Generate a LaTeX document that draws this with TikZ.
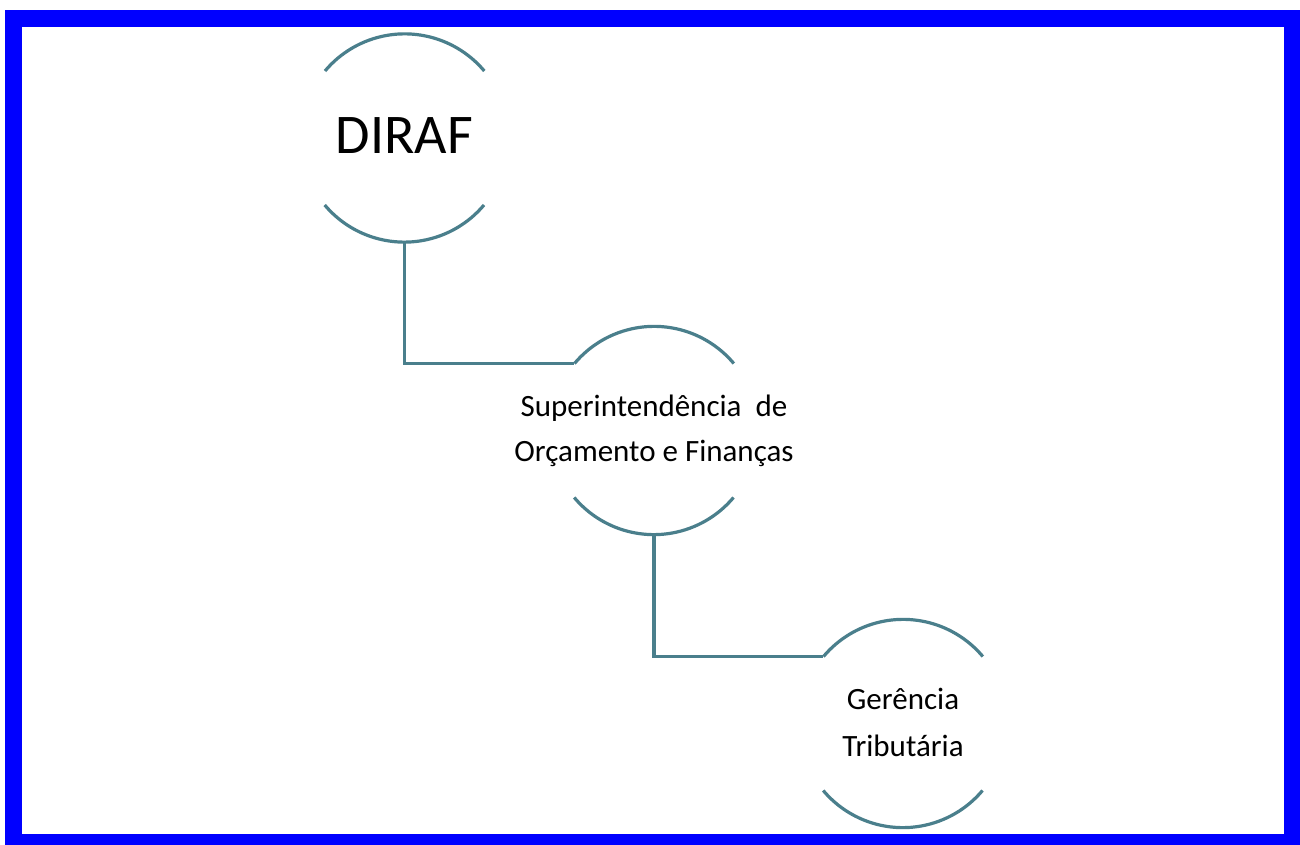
\documentclass[tikz,border=0pt]{standalone}
\usepackage{fontspec}
\setmainfont{Carlito}
\definecolor{linec}{RGB}{74,127,140}
\definecolor{framec}{RGB}{0,0,255}
\begin{document}
\begin{tikzpicture}[x=1pt,y=1pt,
  ring/.style={circle,draw=none,minimum size=208pt,inner sep=0pt},
  arcl/.style={draw=linec,line width=3.2pt},
  conn/.style={draw=linec,line width=3.2pt},
  lbl/.style={align=center,text=black,inner sep=0pt}]
\useasboundingbox (0,0) rectangle (1300,844);
\fill[white] (0,0) rectangle (1300,844);
\draw[framec,line width=17pt] (13.5,1.5) rectangle (1292.5,825.5);
% circles
\node[ring] (d) at (404.5,706) {};
\node[ring] (s) at (654,413.5) {};
\node[ring] (g) at (903,120.5) {};
\foreach \n in {d,s,g}{
  \draw[arcl] (\n.40) arc[start angle=40,end angle=140,radius=104pt];
  \draw[arcl] (\n.220) arc[start angle=220,end angle=320,radius=104pt];
}
% texts
\node[lbl,font=\fontsize{56}{60}\selectfont] (dt) at (404.5,708) {DIRAF};
\node[lbl,font=\fontsize{31}{45}\selectfont] (st) at (654,413) {Superintendência\ \ de\\Orçamento e Finanças};
\node[lbl,font=\fontsize{31}{47}\selectfont] (gt) at (903,122) {Gerência\\Tributária};
% connectors
\draw[conn] (d.south) |- (s.140);
\draw[conn] (s.south) |- (g.140);
\end{tikzpicture}
\end{document}
